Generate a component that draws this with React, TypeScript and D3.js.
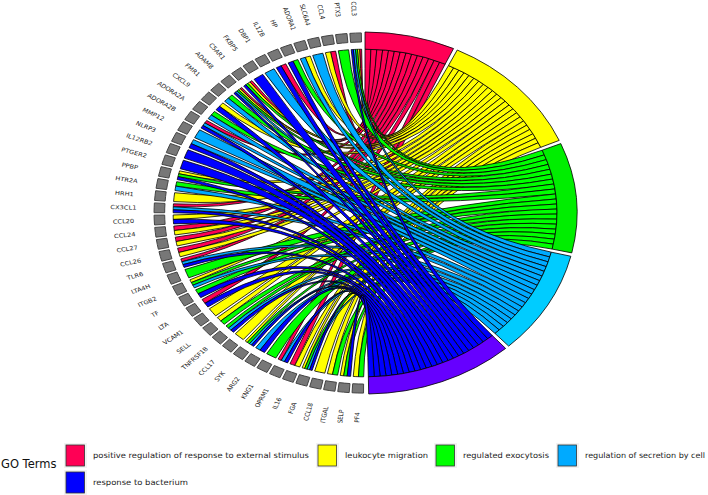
import React from 'react';
import * as d3 from 'd3';

// genes clockwise, bottom (PF4) up the left side to the top (CCL3)
const genes = ['PF4', 'SELP', 'ITGAL', 'CCL18', 'FGA', 'IL16', 'OPRM1', 'KNG1', 'ARG2', 'SYK', 'CCL17', 'TNFRSF1B', 'SELL', 'VCAM1', 'LTA', 'TF', 'ITGB2', 'LTA4H', 'TLR6', 'CCL26', 'CCL27', 'CCL24', 'CCL20', 'CX3CL1', 'HRH1', 'HTR2A', 'PPBP', 'PTGER2', 'IL12RB2', 'NLRP3', 'MMP12', 'ADORA2B', 'ADORA2A', 'CXCL9', 'FMR1', 'ADAM8', 'C5AR1', 'FKBP5', 'DBP1', 'IL12B', 'HP', 'ADORA1', 'SLC6A4', 'CCL4', 'PTX3', 'CCL3'];

// gene membership of each GO term
const externalStimulus = ['IL16', 'OPRM1', 'LTA', 'TLR6', 'CCL26', 'CCL27', 'CCL24', 'CX3CL1', 'ADORA2B', 'ADAM8', 'C5AR1', 'IL12B', 'CCL4', 'CCL3'];
const leukocyteMigration = ['PF4', 'SELP', 'ITGAL', 'CCL18', 'FGA', 'IL16', 'SYK', 'CCL17', 'SELL', 'VCAM1', 'ITGB2', 'CCL26', 'CCL27', 'CCL24', 'CCL20', 'HRH1', 'PPBP', 'CXCL9', 'ADAM8', 'C5AR1', 'ADORA1', 'CCL4', 'CCL3'];
const regulatedExocytosis = ['PF4', 'SELP', 'ITGAL', 'FGA', 'KNG1', 'SYK', 'TNFRSF1B', 'SELL', 'TF', 'ITGB2', 'LTA4H', 'HTR2A', 'PPBP', 'ADORA2A', 'FMR1', 'ADAM8', 'C5AR1', 'HP', 'PTX3', 'CCL3'];
const secretionByCell = ['FGA', 'OPRM1', 'ARG2', 'SYK', 'TNFRSF1B', 'ITGB2', 'TLR6', 'CX3CL1', 'HTR2A', 'NLRP3', 'MMP12', 'ADORA2B', 'ADORA2A', 'FMR1', 'ADAM8', 'DBP1', 'ADORA1', 'SLC6A4', 'CCL3'];
const responseToBacterium = ['SELP', 'FGA', 'OPRM1', 'ARG2', 'SYK', 'TNFRSF1B', 'LTA', 'TF', 'TLR6', 'CCL20', 'CX3CL1', 'PPBP', 'PTGER2', 'IL12RB2', 'NLRP3', 'ADORA2B', 'CXCL9', 'ADAM8', 'C5AR1', 'FKBP5', 'IL12B', 'HP', 'CCL3'];

const termNames = ['positive regulation of response to external stimulus', 'leukocyte migration', 'regulated exocytosis', 'regulation of secretion by cell', 'response to bacterium'];
const termGenes = [externalStimulus, leukocyteMigration, regulatedExocytosis, secretionByCell, responseToBacterium];
const ribbonColors = ['#FF0055', '#FFFF00', '#00FF00', '#00AAFF', '#0000FF'];
const arcColors = ['#FF0055', '#FFFF00', '#00EE00', '#00CCFF', '#6600FF'];

const cx = 365;
const cy = 213;
const R = 181;
const stretchX = 212 / 181; // the whole figure is wider than tall
const rad = (deg: number) => (deg * Math.PI) / 180;

// term arcs on the right half, width by gene count
const termGap = 1.1;
const total = d3.sum(termGenes, d => d.length);
const perGene = (179 - termGap * (termNames.length - 1)) / total;
let cursor = 0;
const termArcs = termGenes.map(list => {
  const start = cursor;
  const end = start + list.length * perGene;
  cursor = end + termGap;
  return { start, end };
});

const geneBand = d3.scaleBand<string>().domain(genes).range([180.4, 359]).paddingInner(0.2);

const arc = d3.arc<{ startAngle: number; endAngle: number; innerRadius: number; outerRadius: number }>();
const ribbon = d3.ribbon<any, any>();
const ribbonR = R * 0.905;

const ribbons = termGenes.flatMap((list, t) => {
  // clockwise along a term arc the genes run from the top down to the bottom
  const ordered = [...list].sort((a, b) => genes.indexOf(b) - genes.indexOf(a));
  return ordered.map((gene, i) => {
    const members = termGenes.map((l, k) => (l.includes(gene) ? k : -1)).filter(k => k >= 0).reverse();
    const slice = geneBand.bandwidth() / members.length;
    const g0 = geneBand(gene)! + members.indexOf(t) * slice;
    const a0 = termArcs[t].start + i * perGene;
    return {
      key: `${t}-${gene}`,
      color: ribbonColors[t],
      d: ribbon({
        source: { startAngle: rad(a0), endAngle: rad(a0 + perGene), radius: ribbonR },
        target: { startAngle: rad(g0), endAngle: rad(g0 + slice), radius: ribbonR },
      }) as unknown as string,
    };
  });
});

const legendRows = [
  { term: 0, x: 66, textX: 93, y: 455, textLength: 216 },
  { term: 1, x: 318, textX: 345, y: 455, textLength: 83 },
  { term: 2, x: 436, textX: 463, y: 455, textLength: 86 },
  { term: 3, x: 558, textX: 585, y: 455, textLength: 120 },
  { term: 4, x: 66, textX: 93, y: 482, textLength: 95 },
];

const App = () => {
  return (
    <svg width={708} height={495} style={{ position: 'absolute', left: 0, top: 0 }} fontFamily="'DejaVu Sans'">
      <g transform={`translate(${cx},${cy}) scale(${stretchX},1)`}>
        {ribbons.map(r => (
          <path key={r.key} d={r.d} fill={r.color} stroke="#000" strokeWidth={0.8} vectorEffect="non-scaling-stroke" />
        ))}
        {termArcs.map((a, i) => (
          <path
            key={termNames[i]}
            d={arc({ startAngle: rad(a.start), endAngle: rad(a.end), innerRadius: ribbonR, outerRadius: R }) as string}
            fill={arcColors[i]}
            stroke="#000"
            strokeWidth={0.8}
            vectorEffect="non-scaling-stroke"
          />
        ))}
        {genes.map(gene => {
          const g0 = geneBand(gene)!;
          const mid = g0 + geneBand.bandwidth() / 2;
          const lx = Math.sin(rad(mid)) * R * 1.14;
          const ly = -Math.cos(rad(mid)) * R * 1.13;
          return (
            <g key={gene}>
              <path
                d={arc({ startAngle: rad(g0), endAngle: rad(g0 + geneBand.bandwidth()), innerRadius: R * 0.945, outerRadius: R * 0.995 }) as string}
                fill="#777"
                stroke="#444"
                strokeWidth={1}
                vectorEffect="non-scaling-stroke"
              />
              <text
                transform={`translate(${lx},${ly}) rotate(${mid - 270})`}
                textAnchor="middle"
                dominantBaseline="central"
                fontSize={5.7}
                fill="#222"
              >
                {gene}
              </text>
            </g>
          );
        })}
      </g>
      <text x={1} y={468} fontSize={11.5} fill="#111">GO Terms</text>
      {legendRows.map(row => (
        <g key={row.term}>
          <rect x={row.x - 2} y={row.y - 12} width={23} height={25} fill="#F2F2F2" />
          <rect x={row.x} y={row.y - 10} width={18.5} height={21} fill={ribbonColors[row.term]} stroke="#333" strokeWidth={0.8} />
          <text x={row.textX} y={row.y + 3} fontSize={7.7} fill="#222" textLength={row.textLength} lengthAdjust="spacingAndGlyphs">
            {termNames[row.term]}
          </text>
        </g>
      ))}
    </svg>
  );
};

export default App;
